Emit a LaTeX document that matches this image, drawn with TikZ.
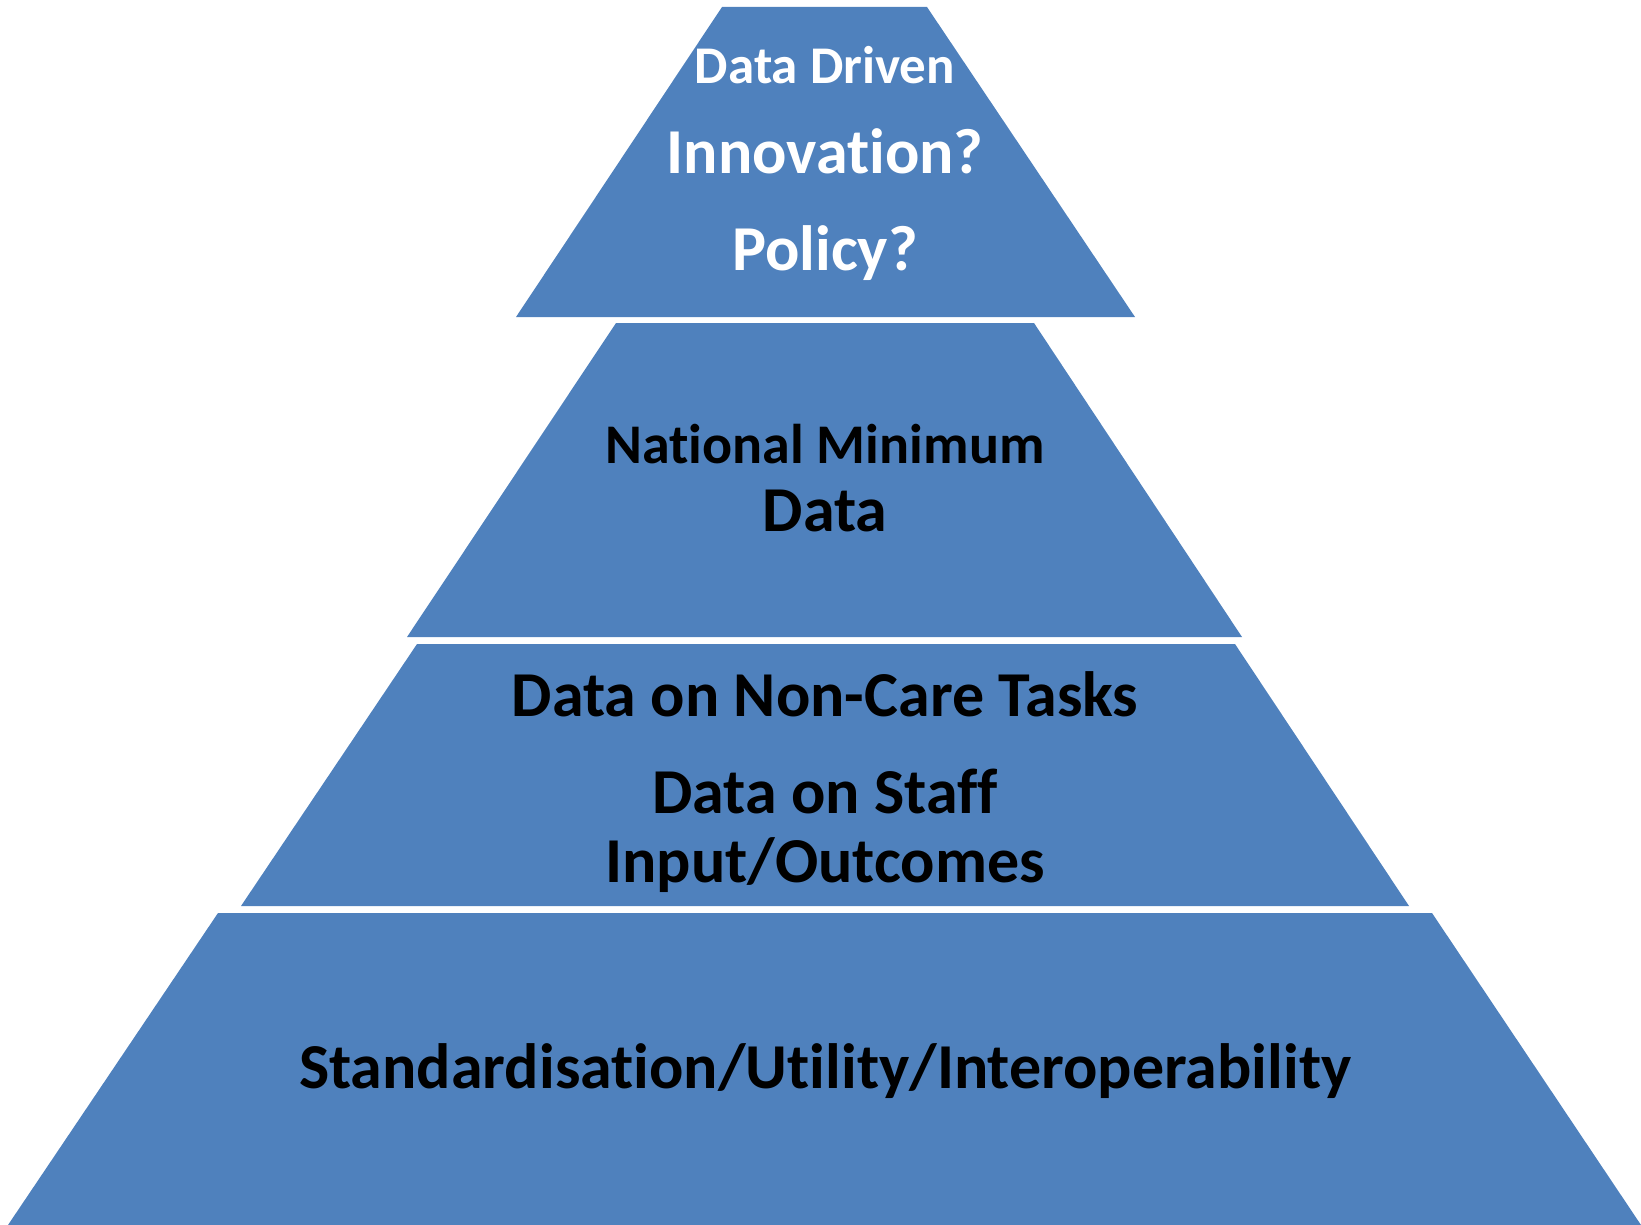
\documentclass[tikz,border=0pt]{standalone}
\usepackage{fontspec}
\setmainfont{Carlito}[Ligatures=NoCommon]
\definecolor{tierblue}{HTML}{4F81BD}
\begin{document}
\begin{tikzpicture}[x=1pt,y=-1pt,
  tier/.style={fill=tierblue},
  lbl/.style={anchor=base,inner sep=0pt,font=\bfseries},
  blk/.style={lbl,text=black},
  wht/.style={lbl,text=white}]
\useasboundingbox (0,0) rectangle (1641,1225);
% tiers
\fill[tier] (722,7) -- (927,7) -- (1135,317) -- (516,317) -- cycle;
\fill[tier] (616,323) -- (1034,323) -- (1242,637) -- (407,637) -- cycle;
\fill[tier] (417,644) -- (1235,644) -- (1409,906) -- (241,906) -- cycle;
\fill[tier] (218,913) -- (1432,913) -- (1641,1225) -- (8,1225) -- cycle;
% labels
\node[wht,font=\bfseries\fontsize{53}{53}\selectfont] (t1) at (825,84) {Data Driven};
\node[wht,font=\bfseries\fontsize{64}{64}\selectfont] (t2) at (825,174) {Innovation?};
\node[wht,font=\bfseries\fontsize{64}{64}\selectfont] (t3) at (825,270) {Policy?};
\node[blk,font=\bfseries\fontsize{56}{56}\selectfont] (m1) at (825,463) {National Minimum};
\node[blk,font=\bfseries\fontsize{64}{64}\selectfont] (m2) at (825,531) {Data};
\node[blk,font=\bfseries\fontsize{64}{64}\selectfont] (d1) at (825,716) {Data on Non-Care Tasks};
\node[blk,font=\bfseries\fontsize{64}{64}\selectfont] (d2) at (825,813) {Data on Staff};
\node[blk,font=\bfseries\fontsize{64}{64}\selectfont] (d3) at (825,882) {Input/Outcomes};
\node[blk,font=\bfseries\fontsize{64}{64}\selectfont] (b1) at (825,1088) {Standardisation/Utility/Interoperability};
\end{tikzpicture}
\end{document}
